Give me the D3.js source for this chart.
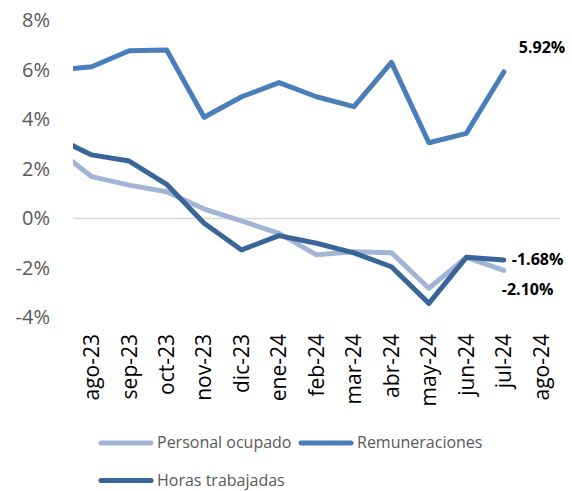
<!DOCTYPE html>
<html>
<head>
<meta charset="utf-8">
<script src="https://cdn.jsdelivr.net/npm/d3@7"></script>
<style>
  body { margin: 0; background: #fff; }
  svg { display: block; font-family: "Open Sans", sans-serif; }
</style>
</head>
<body>
<svg width="572" height="491"></svg>
<script>
// months: the first one (jul-23) sits left of the plot and is clipped
let allMonths = ['jul-23', 'ago-23', 'sep-23', 'oct-23', 'nov-23', 'dic-23', 'ene-24',
                 'feb-24', 'mar-24', 'abr-24', 'may-24', 'jun-24', 'jul-24', 'ago-24'];
let shownMonths = allMonths.slice(1);

// series values in %, jul-23 .. jul-24
let personal = [2.88, 1.69, 1.35, 1.08, 0.38, -0.10, -0.60, -1.47, -1.34, -1.38, -2.82, -1.57, -2.10];
let remuneraciones = [6.00, 6.13, 6.78, 6.81, 4.09, 4.92, 5.49, 4.92, 4.52, 6.31, 3.06, 3.44, 5.92];
let horas = [3.30, 2.57, 2.32, 1.38, -0.19, -1.27, -0.69, -1.00, -1.39, -1.95, -3.43, -1.57, -1.68];

let yTicks = [-4, -2, 0, 2, 4, 6, 8];

let seriesNames = ['Personal ocupado', 'Remuneraciones', 'Horas trabajadas'];
let seriesColors = ['#a3b5d5', '#4a7ebb', '#3a6598'];

let plot = { left: 73, right: 560, top: 20.5, bottom: 317.5 };

let svg = d3.select('svg');

// index scale: ago-23 is index 1, centred in its category
let xScale = d3.scaleLinear()
               .domain([0.5, allMonths.length - 0.5])
               .range([plot.left, plot.right]);

let xBand = d3.scaleBand()
              .domain(shownMonths)
              .range([plot.left, plot.right]);

let yScale = d3.scaleLinear()
               .domain([-4, 8])
               .range([plot.bottom, plot.top]);

//clip lines to plot area
svg.append('clipPath')
   .attr('id', 'plotClip')
   .append('rect')
   .attr('x', plot.left)
   .attr('y', 0)
   .attr('width', plot.right - plot.left)
   .attr('height', 420);

//y axis
let yAxis = d3.axisLeft(yScale)
              .tickValues(yTicks)
              .tickSize(0)
              .tickPadding(23)
              .tickFormat((d) => d + '%');

svg.append('g')
   .attr('id', 'y-axis')
   .attr('transform', 'translate(' + plot.left + ', 0)')
   .call(yAxis)
   .call((g) => g.select('.domain').remove())
   .selectAll('text')
   .attr('fill', '#595959')
   .style('font-size', '20px')
   .style('font-family', '"Open Sans", sans-serif');

//zero line
svg.append('line')
   .attr('x1', plot.left)
   .attr('x2', plot.right)
   .attr('y1', yScale(0))
   .attr('y2', yScale(0))
   .attr('stroke', '#d9d9d9')
   .attr('stroke-width', 1.5);

//x axis labels, rotated, at the bottom of the plot
let xAxis = d3.axisBottom(xBand)
              .tickSize(0);

svg.append('g')
   .attr('id', 'x-axis')
   .attr('transform', 'translate(0, ' + plot.bottom + ')')
   .call(xAxis)
   .call((g) => g.select('.domain').remove())
   .selectAll('text')
   .attr('transform', 'rotate(-90)')
   .attr('text-anchor', 'end')
   .attr('x', -16.5)
   .attr('y', 0)
   .attr('dy', '0.35em')
   .attr('fill', '#000')
   .style('font-size', '21px')
   .style('font-family', '"Open Sans", sans-serif');

//lines
let line = d3.line()
             .x((d, i) => xScale(i))
             .y((d) => yScale(d));

let allSeries = [personal, remuneraciones, horas];

svg.append('g')
   .attr('clip-path', 'url(#plotClip)')
   .selectAll('path')
   .data(allSeries)
   .enter()
   .append('path')
   .attr('d', (d) => line(d))
   .attr('fill', 'none')
   .attr('stroke', (d, i) => seriesColors[i])
   .attr('stroke-width', 5)
   .attr('stroke-linejoin', 'round')
   .attr('stroke-linecap', 'round');

//value labels for jul-24
let last = allMonths.indexOf('jul-24');
let labels = [
    { v: remuneraciones[last], dx: 15, dy: -19 },
    { v: horas[last], dx: 8, dy: 5 },
    { v: personal[last], dx: -2, dy: 25 }
];

svg.selectAll('.vlabel')
   .data(labels)
   .enter()
   .append('text')
   .attr('class', 'vlabel')
   .attr('x', (d) => xScale(last) + d.dx)
   .attr('y', (d) => yScale(d.v) + d.dy)
   .attr('fill', '#000')
   .style('font-size', '16px')
   .style('font-weight', 'bold')
   .text((d) => d.v.toFixed(2) + '%');

//legend
let legendItems = [
    { x: 99, y: 443 },
    { x: 299, y: 443 },
    { x: 99, y: 480.5 }
];

let legend = svg.selectAll('.legend')
                .data(seriesNames)
                .enter()
                .append('g')
                .attr('class', 'legend')
                .attr('transform', (d, i) => 'translate(' + legendItems[i].x + ', ' + legendItems[i].y + ')');

legend.append('line')
      .attr('x1', 2)
      .attr('x2', 52)
      .attr('stroke', (d, i) => seriesColors[i])
      .attr('stroke-width', 5)
      .attr('stroke-linecap', 'round');

legend.append('text')
      .attr('x', 58)
      .attr('dy', '0.32em')
      .attr('fill', '#595959')
      .style('font-size', '16px')
      .text((d) => d);
</script>
</body>
</html>
